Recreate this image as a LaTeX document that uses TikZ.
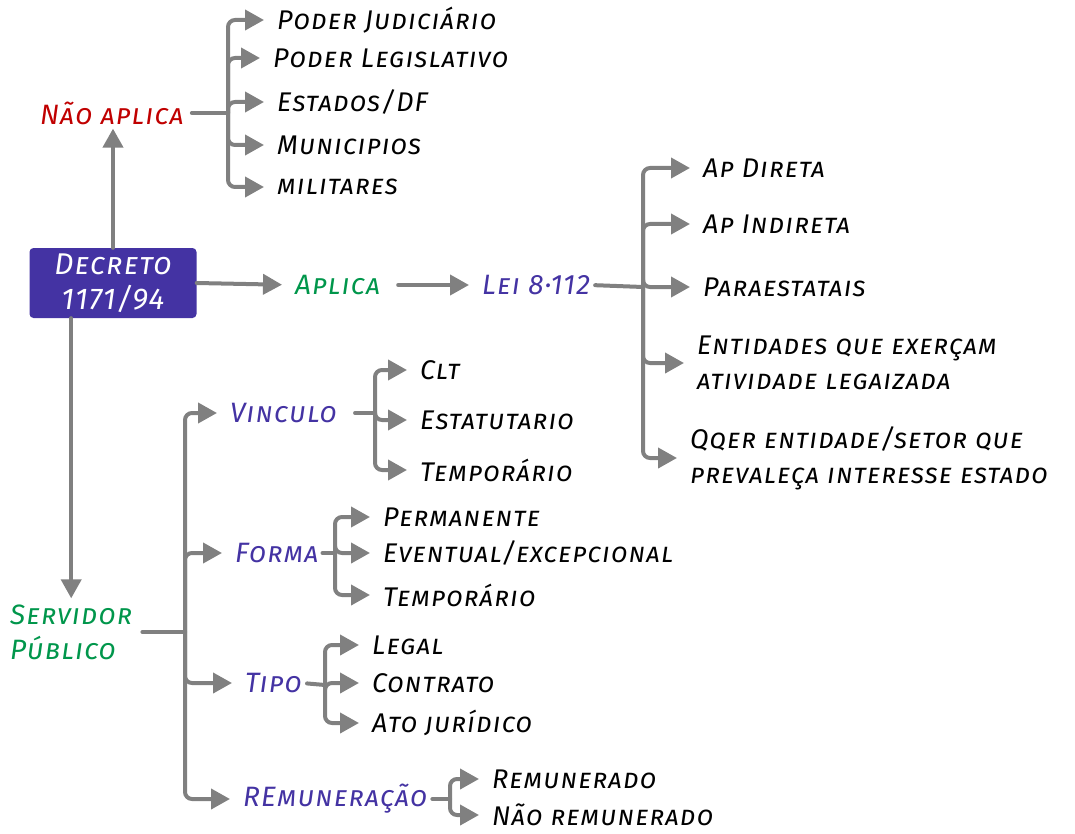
\documentclass[tikz,border=0pt]{standalone}
\usepackage{fontspec}
\usetikzlibrary{arrows.meta,calc}
\newfontfamily\hand{Fira Sans}[Letters=SmallCaps, LetterSpace=4]
\definecolor{gr}{HTML}{808080}
\definecolor{pu}{HTML}{4433A3}
\definecolor{rd}{HTML}{C00000}
\definecolor{gn}{HTML}{00964B}
\tikzset{
  lbl/.style={font=\hand\itshape\fontsize{27}{35}\selectfont, anchor=west, inner sep=0pt, text=black, align=left},
  lblp/.style={lbl, text=pu, font=\hand\itshape\fontsize{28}{35}\selectfont},
  lblg/.style={lbl, text=gn, font=\hand\itshape\fontsize{28}{35}\selectfont},
  lblr/.style={lbl, text=rd, font=\hand\itshape\fontsize{28}{35}\selectfont},
  ln/.style={draw=gr, line width=4pt, line cap=round, rounded corners=7pt},
  ar/.style={ln, -{Triangle[length=19pt,width=20pt]}, shorten >=13pt},
  box/.style={fill=pu, text=white, minimum width=167pt, minimum height=70pt, rounded corners=4pt, align=center, inner sep=0pt,
     font=\hand\itshape\fontsize{30}{35}\selectfont}
}
\begin{document}
\begin{tikzpicture}[x=1pt,y=-1pt]
\useasboundingbox (0,0) rectangle (1075,834);
% nodes
\node[box] (dec) at (113,283) {Decreto\\1171/94};
\node[lblr] (nao) at (40,113) {Não aplica};
\node[lbl] (pj) at (277,20) {Poder Judiciário};
\node[lbl] (pl) at (273,58) {Poder Legislativo};
\node[lbl] (ed) at (277,102) {Estados/DF};
\node[lbl] (mu) at (277,145) {Municipios};
\node[lbl] (mi) at (277,187) {militares};
\node[lblg] (apl) at (295,285) {Aplica};
\node[lblp] (lei) at (482,285) {Lei 8·112};
\node[lbl] (ad) at (703,168) {Ap Direta};
\node[lbl] (ai) at (703,224) {Ap Indireta};
\node[lbl] (pa) at (703,287) {Paraestatais};
\node[lbl] (en) at (697,363) {Entidades que exerçam\\atividade legaizada};
\node[lbl] (qq) at (690,458) {Qqer entidade/setor que\\prevaleça interesse estado};
\node[lblg] (sp) at (10,632) {Servidor\\Público};
\node[lblp] (vi) at (230,413) {Vinculo};
\node[lblp] (fo) at (235,553) {Forma};
\node[lblp] (ti) at (245,683) {Tipo};
\node[lblp] (re) at (243,799) {REmuneração};
\node[lbl] (clt) at (420,370) {Clt};
\node[lbl] (es) at (420,420) {Estatutario};
\node[lbl] (tea) at (420,470) {Temporário};
\node[lbl] (pe) at (383,517) {Permanente};
\node[lbl] (ev) at (383,553) {Eventual/excepcional};
\node[lbl] (teb) at (383,595) {Temporário};
\node[lbl] (le) at (372,645) {Legal};
\node[lbl] (co) at (372,683) {Contrato};
\node[lbl] (at) at (372,723) {Ato jurídico};
\node[lbl] (rm) at (492,779) {Remunerado};
\node[lbl] (nr) at (492,815) {Não remunerado};
% trunk points
\coordinate (tN) at (228,113);
\coordinate (tL) at (643,287);
\coordinate (tS) at (185,632);
\coordinate (tV) at (375,413);
\coordinate (tF) at (335,553);
\coordinate (tT) at (325,685);
\coordinate (tR) at (450,799);
% main connectors
\draw[ar, shorten >=4pt] (dec.north) -- (dec.north |- nao.south);
\draw[ar, shorten >=6pt] (dec.south -| sp.north) -- (sp.north);
\draw[ar] (dec.east) -- (apl.west);
\draw[ar, shorten <=18pt] (apl.east) -- (lei.west);
% branches
\draw[ln, shorten <=8pt] (nao.east) -- (tN);
\foreach \c in {pj,pl,ed,mu,mi} \draw[ar] (tN) |- (\c.west);
\draw[ln, shorten <=5pt] (lei.east) -- (tL);
\foreach \c in {ad,ai,pa,en,qq} \draw[ar] (tL) |- (\c.west);
\draw[ln, shorten <=10pt] (sp.east) -- (tS);
\foreach \c in {vi,fo,ti,re} \draw[ar] (tS) |- (\c.west);
\draw[ln, shorten <=18pt] (vi.east) -- (tV);
\foreach \c in {clt,es,tea} \draw[ar] (tV) |- (\c.west);
\draw[ln, shorten <=4pt] (fo.east) -- (tF);
\foreach \c in {pe,ev,teb} \draw[ar] (tF) |- (\c.west);
\draw[ln, shorten <=5pt] (ti.east) -- (tT);
\foreach \c in {le,co,at} \draw[ar] (tT) |- (\c.west);
\draw[ln, shorten <=5pt] (re.east) -- (tR);
\foreach \c in {rm,nr} \draw[ar] (tR) |- (\c.west);
\end{tikzpicture}
\end{document}
